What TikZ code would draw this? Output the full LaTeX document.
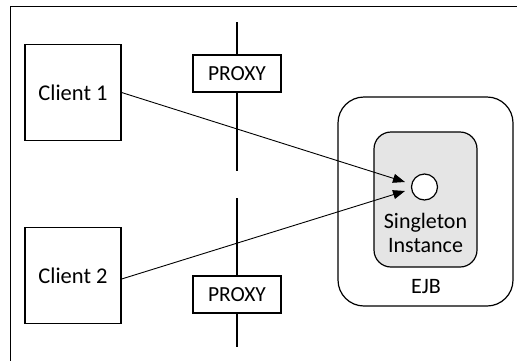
\documentclass[tikz,border=0pt]{standalone}
\usepackage{fontspec}
\setmainfont{Carlito}
\usetikzlibrary{arrows.meta}

\begin{document}
\begin{tikzpicture}[x=1pt, y=-1pt]
\tikzset{clientbox/.style={draw, line width=1.2pt, minimum width=96pt, minimum height=96pt, font=\fontsize{22.5}{24}\selectfont},
proxybox/.style={draw, fill=white, line width=1.2pt, minimum width=88pt, minimum height=37pt, font=\fontsize{21.5}{24}\selectfont},
fleche/.style={line width=0.9pt, -{Triangle[length=12pt, width=9pt]}}}
\useasboundingbox (0, 0) rectangle (517, 360);
\clip (0, 0) rectangle (517, 360);
\draw[line width=1pt] (10, 6) rectangle (530, 380);
\draw[line width=1.2pt] (237, 22) -- (237, 171);
\draw[line width=1.2pt] (237, 198) -- (237, 347);
\node[clientbox] (C1) at (73, 92.5) {Client 1};
\node[clientbox] (C2) at (73, 275.5) {Client 2};
\node[proxybox] (P1) at (237, 73.5) {PROXY};
\node[proxybox] (P2) at (237, 294.5) {PROXY};
\node[draw, line width=1.2pt, rounded corners=26pt, minimum width=175pt, minimum height=209pt] (EJB) at (425.5, 201.5) {};
\node[draw, line width=1.2pt, fill=black!10, rounded corners=17pt, minimum width=103pt, minimum height=135pt] (SI) at (425.5, 199.5) {};
\node[draw, circle, fill=white, line width=1.2pt, minimum size=26pt, inner sep=0pt] (O) at (424.5, 187) {};
\node[font=\fontsize{22}{24.5}\selectfont, align=center] (T) at (425.5, 233) {Singleton\\Instance};
\node[font=\fontsize{22}{24}\selectfont] (E) at (426, 287) {EJB};
\coordinate (A1) at (405, 182);
\coordinate (A2) at (405, 191);
\draw[fleche] (C1.east) -- (A1);
\draw[fleche] ([yshift=-3.5pt]C2.east) -- (A2);
\end{tikzpicture}
\end{document}
